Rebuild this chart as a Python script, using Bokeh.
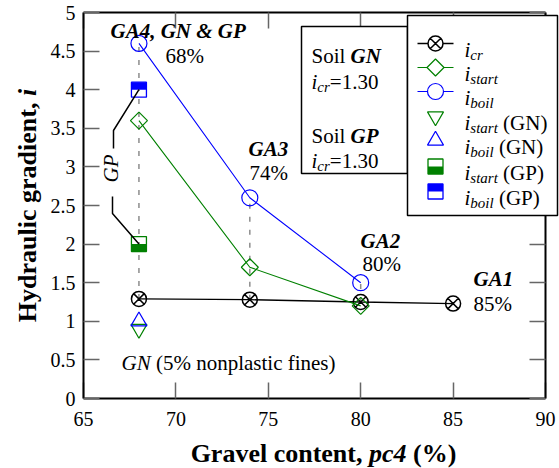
import math
from bokeh.plotting import figure
from bokeh.models import (Label, BoxAnnotation, LinearAxis, FixedTicker)
from bokeh.embed import file_html
from bokeh.resources import INLINE

# ---------------- data ----------------
gravel_cr = [68, 74, 80, 85]
i_cr = [1.29, 1.28, 1.25, 1.23]
gravel_ga = [68, 74, 80]
i_start = [3.6, 1.7, 1.2]
i_boil = [4.6, 2.6, 1.5]
gravel_gn = [68]
i_start_gn = [0.9]
i_boil_gn = [1.0]
gravel_gp = [68]
i_start_gp = [2.0]
i_boil_gp = [4.0]
sample_names = ["GA4, GN & GP", "GA3", "GA2", "GA1"]
sample_pct = ["68%", "74%", "80%", "85%"]
x_ticks = [65, 70, 75, 80, 85, 90]
y_ticks = [0, 0.5, 1, 1.5, 2, 2.5, 3, 3.5, 4, 4.5, 5]
y_tick_labels = ["0", "0.5", "1", "1.5", "2", "2.5", "3", "3.5", "4", "4.5", "5"]
X_AX = (65, 90)
Y_AX = (0, 5)

# ---------------- layout ----------------
W, H = 559, 468
AL, AT, AW, AH = 83, 12, 462, 386          # axes box in canvas pixels
PXX = AW / (X_AX[1] - X_AX[0])
PXY = AH / (Y_AX[1] - Y_AX[0])
X_RANGE = (X_AX[0] - AL / PXX, X_AX[1] + (W - AL - AW) / PXX)
Y_RANGE = (Y_AX[0] - (H - AT - AH) / PXY, Y_AX[1] + AT / PXY)
FONT = "Liberation Serif"
GREEN = "#008000"
BLUE = "#0000ff"

def sx(X):
    return X

def sy(Y):
    return H - Y

def dx(X):
    return X_AX[0] + (X - AL) / PXX

def dy(Y):
    return Y_AX[0] + (AT + AH - Y) / PXY

W_REG = {' ': 250, '(': 333, ')': 333, '%': 833, '.': 250, '=': 564, 'G': 722, 'N': 722, 'P': 556,
         'S': 556, 'a': 444, 'c': 444, 'e': 444, 'f': 333, 'i': 278, 'l': 278, 'n': 500, 'o': 500,
         'p': 500, 's': 389, 't': 278, 'r': 333}
W_IT = {'i': 278, 'c': 444, 'r': 389, 's': 389, 't': 278, 'a': 500, 'b': 500, 'o': 500, 'l': 278,
        'G': 722, 'N': 667, 'P': 611, ' ': 250}
W_B = {'G': 778, 'r': 444, 'a': 500, 'v': 500, 'e': 444, 'l': 278, ' ': 250, 'c': 444, 'o': 500,
       'n': 556, 't': 333, ',': 250, '(': 333, '%': 1000, ')': 333, 'H': 778, 'y': 500, 'd': 556,
       'u': 556, 'i': 278, 'g': 500}
W_BI = {'G': 722, 'A': 667, 'N': 722, 'P': 611, ',': 250, ' ': 250, '&': 778, 'p': 500, 'c': 444,
        'i': 278}

def text_width(text, style, size):
    table = {"normal": W_REG, "italic": W_IT, "bold": W_B, "bold italic": W_BI}[style]
    return sum(table.get(ch, 500) for ch in text) * size / 1000.0

p = figure(width=W, height=H, x_range=X_RANGE, y_range=Y_RANGE,
           output_backend="svg", toolbar_location=None,
           x_axis_location=None, y_axis_location=None,
           min_border=0, min_border_left=0, min_border_right=0,
           min_border_top=0, min_border_bottom=0)
p.outline_line_color = None
p.xgrid.visible = False
p.ygrid.visible = False
p.background_fill_color = "white"
p.border_fill_color = "white"

def make_axis(ticks, loc, bounds, labels=None, standoff=8):
    ax = LinearAxis(fixed_location=loc, bounds=bounds)
    ax.ticker = FixedTicker(ticks=ticks, minor_ticks=[])
    ax.axis_line_color = "black"
    ax.axis_line_width = 2
    ax.major_tick_in = 16
    ax.major_tick_out = 0
    ax.major_tick_line_color = "#666666"
    ax.major_tick_line_width = 1.5
    ax.minor_tick_line_color = None
    ax.major_label_text_font = FONT
    ax.major_label_text_color = "black"
    ax.major_label_standoff = standoff
    if labels is not None:
        ax.major_label_text_font_size = "20px"
        ax.major_label_overrides = {t: l for t, l in zip(ticks, labels)}
    else:
        ax.major_label_text_font_size = "1px"
        ax.major_label_text_color = None
        ax.major_label_standoff = 0
        ax.major_label_overrides = {t: "" for t in ticks}
    return ax

p.add_layout(make_axis(x_ticks, Y_AX[0], X_AX, [str(t) for t in x_ticks], 13), "below")
p.add_layout(make_axis(y_ticks, X_AX[0], Y_AX, y_tick_labels, 8), "left")
p.add_layout(make_axis(x_ticks, Y_AX[1], X_AX), "above")
p.add_layout(make_axis(y_ticks, X_AX[1], Y_AX), "right")

# ---------------- data marks ----------------
p.segment(x0=gravel_ga, y0=i_cr[:3], x1=gravel_ga, y1=i_boil,
          line_color="#8c8c8c", line_width=1.5, line_dash="5 8")

p.line(gravel_cr, i_cr, line_color="black", line_width=1.3)
p.scatter(gravel_cr, i_cr, marker="circle_x", size=15, fill_color=None,
          line_color="black", line_width=1.5)

p.line(gravel_ga, i_start, line_color=GREEN, line_width=1.1)
p.scatter(gravel_ga, i_start, marker="square", angle=math.pi / 4, size=12,
          fill_color=None, line_color=GREEN, line_width=1.2)

p.line(gravel_ga, i_boil, line_color=BLUE, line_width=1.1)
p.scatter(gravel_ga, i_boil, marker="circle", size=16, fill_color=None,
          line_color=BLUE, line_width=1.2)

p.scatter(gravel_gn, i_start_gn, marker="inverted_triangle", size=16, fill_color=None,
          line_color=GREEN, line_width=1.2)
p.scatter(gravel_gn, i_boil_gn, marker="triangle", size=16, fill_color=None,
          line_color=BLUE, line_width=1.2)

SQ = 15
def half_square(xs, ys, color, half, level="glyph"):
    off = (SQ / 4.0) / PXY * (-1 if half == "bottom" else 1)
    p.rect(list(xs), [y + off for y in ys], width=SQ, height=SQ / 2.0,
           width_units="screen", height_units="screen", fill_color=color,
           line_color=None, level=level)
    p.scatter(xs, ys, marker="square", size=SQ, fill_color=None, line_color=color,
              line_width=1.3, level=level)

half_square(gravel_gp, i_start_gp, GREEN, "bottom")
half_square(gravel_gp, i_boil_gp, BLUE, "top")

# GP bracket
p.line([gravel_gp[0], dx(113), dx(113)], [i_boil_gp[0], dy(130), dy(148)],
       line_color="black", line_width=1.5)
p.line([dx(112), dx(112), gravel_gp[0]], [dy(196), dy(213), i_start_gp[0]],
       line_color="black", line_width=1.5)

# ---------------- text helpers ----------------
def add_text(text, X, Y, size, style="normal", angle=0.0, align="left",
             baseline="alphabetic", level="annotation", color="black"):
    p.add_layout(Label(x=sx(X), y=sy(Y), x_units="screen", y_units="screen", text=text,
                       text_font=FONT, text_font_size=f"{size}px", text_font_style=style,
                       angle=angle, text_align=align, text_baseline=baseline,
                       text_color=color, level=level))

def run(pieces, X, Y, level="annotation"):
    x = X
    for text, style, size, ddy in pieces:
        while text.startswith(" "):
            x += text_width(" ", style, size)
            text = text[1:]
        if text:
            add_text(text, x, Y + ddy, size, style, level=level)
        x += text_width(text, style, size)
    return x

def run_width(pieces):
    return sum(text_width(t, s, z) for t, s, z, _ in pieces)

FS = 21
SUB = 15
SUBDY = 5

name_pos = [(110, 30), (248, 148), (360, 240), (473, 278)]
pct_pos = [(165, 55), (249, 172), (362, 263), (473, 303)]
for name, (X, Y) in zip(sample_names, name_pos):
    add_text(name, X, Y, FS, "bold italic")
for pct, (X, Y) in zip(sample_pct, pct_pos):
    add_text(pct, X, Y, FS, "normal")

run([("GN", "italic", FS, 0), (" (5% nonplastic fines)", "normal", FS, 0)], 121, 362)

add_text("GP", 110, 168, FS, "italic", angle=math.pi / 2, align="center", baseline="middle")

# Soil box
p.add_layout(BoxAnnotation(left=sx(301), right=sx(407), top=sy(26), bottom=sy(173),
                           left_units="screen", right_units="screen", top_units="screen",
                           bottom_units="screen", fill_color="white", fill_alpha=1.0,
                           line_color="black", line_width=1.5, line_alpha=1.0))
soil_lines = [("GN", 55, 81), ("GP", 135, 160)]
for soil, yb1, yb2 in soil_lines:
    run([("Soil", "normal", FS, 0), (" " + soil, "bold italic", FS, 0)], 311, yb1)
    run([("i", "italic", FS, 0), ("cr", "italic", SUB, SUBDY), ("=1.30", "normal", FS, 0)], 311, yb2)

# axis titles
xl = [("Gravel content,", "bold", 26, 0), (" pc4", "bold italic", 26, 0), (" (%)", "bold", 26, 0)]
run(xl, 323 - run_width(xl) / 2.0, 453)
yl = [("Hydraulic gradient,", "bold", 26), (" i", "bold italic", 26)]
ytot = sum(text_width(t, s, z) for t, s, z in yl)
ycur = 205 + ytot / 2.0
for text, style, size in yl:
    while text.startswith(" "):
        ycur -= text_width(" ", style, size)
        text = text[1:]
    add_text(text, 27, ycur, size, style, angle=math.pi / 2)
    ycur -= text_width(text, style, size)

# ---------------- legend (drawn by hand) ----------------
p.add_layout(BoxAnnotation(left=sx(407), right=sx(557), top=sy(15), bottom=sy(215),
                           left_units="screen", right_units="screen", top_units="screen",
                           bottom_units="screen", fill_color="white", fill_alpha=1.0,
                           line_color="black", line_width=1.5, line_alpha=1.0))
rows = [43, 67, 91, 116, 140, 166, 191]
LX0, LX1, LXM, TX = 417, 453, 435, 464
lv = "overlay"
p.line([dx(LX0), dx(LX1)], [dy(rows[0])] * 2, line_color="black", line_width=1.3, level=lv)
p.scatter([dx(LXM)], [dy(rows[0])], marker="circle_x", size=15, fill_color="white",
          line_color="black", line_width=1.5, level=lv)
p.line([dx(LX0), dx(LX1)], [dy(rows[1])] * 2, line_color=GREEN, line_width=1.1, level=lv)
p.scatter([dx(LXM)], [dy(rows[1])], marker="square", angle=math.pi / 4, size=12,
          fill_color="white", line_color=GREEN, line_width=1.2, level=lv)
p.line([dx(LX0), dx(LX1)], [dy(rows[2])] * 2, line_color=BLUE, line_width=1.1, level=lv)
p.scatter([dx(LXM)], [dy(rows[2])], marker="circle", size=16, fill_color="white",
          line_color=BLUE, line_width=1.2, level=lv)
p.scatter([dx(LXM)], [dy(rows[3])], marker="inverted_triangle", size=16, fill_color=None,
          line_color=GREEN, line_width=1.2, level=lv)
p.scatter([dx(LXM)], [dy(rows[4])], marker="triangle", size=16, fill_color=None,
          line_color=BLUE, line_width=1.2, level=lv)
half_square([dx(LXM)], [dy(rows[5])], GREEN, "bottom", level=lv)
half_square([dx(LXM)], [dy(rows[6])], BLUE, "top", level=lv)

legend_subs = ["cr", "start", "boil", "start", "boil", "start", "boil"]
legend_tails = ["", "", "", " (GN)", " (GN)", " (GP)", " (GP)"]
for r, sub, tail in zip(rows, legend_subs, legend_tails):
    pieces = [("i", "italic", FS, 0), (sub, "italic", SUB, SUBDY)]
    if tail:
        pieces.append((tail, "normal", FS, 0))
    run(pieces, TX, r + 6, level="overlay")

open("out.html", "w").write(file_html(p, INLINE))
